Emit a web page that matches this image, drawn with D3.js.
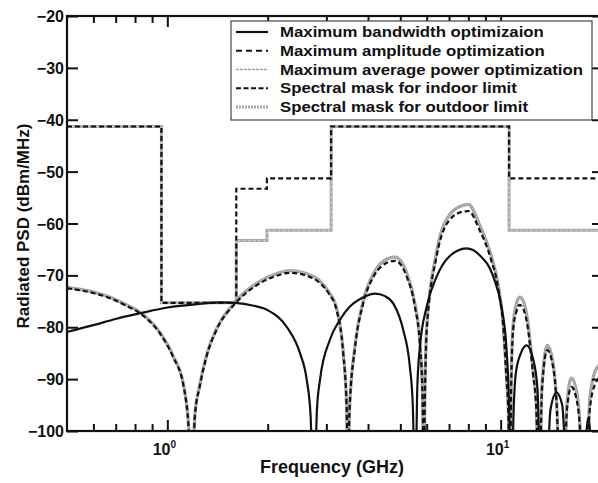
<!DOCTYPE html>
<html><head><meta charset="utf-8">
<script src="https://cdn.jsdelivr.net/npm/d3@7"></script>
<style>
body{margin:0;background:#fff}
text{font-family:"Liberation Sans",Arial,Helvetica,sans-serif;font-weight:bold;fill:#111}
</style>
</head><body>
<svg id="c" width="598" height="483"></svg>
<script>
// ---------- data ----------
const maskFreqs     = [0.5, 0.96, 1.61, 1.99, 3.1, 10.6, 20];
const indoorLevels  = [-41.3, -75.3, -53.3, -51.3, -41.3, -51.3, -51.3];
const outdoorLevels = [-41.3, -75.3, -63.3, -61.3, -41.3, -61.3, -61.3];

// Maximum bandwidth optimization (solid)
const bwFreq = [0.5,0.6,0.7,0.83,1.0,1.25,1.45,1.6,1.8,2.0,2.28,2.5,2.62,2.69,2.73,
  2.77,2.81,2.87,3.07,3.29,3.53,3.85,4.19,4.5,4.76,5.1,5.34,5.45,5.52,
  5.56,5.62,5.72,6.0,6.42,7.0,7.9,8.65,9.51,10.05,10.4,10.6,10.7,
  10.8,10.95,11.1,11.5,11.96,12.5,12.9,13.15,
  13.75,14.1,14.7,15.3,15.8,
  17.7,18.3,18.9];
const bwPsd = [-80.9,-79.6,-78.4,-77.3,-76.2,-75.5,-75.2,-75.3,-75.8,-76.7,-79.9,-85.0,-90.2,-97,-108,
  -108,-96,-90.2,-82.5,-78.6,-76.0,-74.3,-73.5,-74.0,-75.4,-80.5,-87.6,-95,-108,
  -108,-92,-84,-76,-70.3,-66.4,-64.8,-66.1,-70.3,-76.0,-83.7,-95.3,-108,
  -108,-95,-88.9,-85.0,-83.5,-86,-92,-108,
  -108,-96,-92.6,-95,-108,
  -108,-97.5,-108];

// Maximum amplitude optimization (dashed)
const ampFreq = [0.5,0.6,0.673,0.75,0.827,0.95,1.04,1.12,1.15,1.185,
  1.21,1.25,1.31,1.405,1.6,1.9,2.1,2.33,2.6,2.87,3.05,3.22,3.37,3.45,3.48,
  3.52,3.66,3.87,4.15,4.4,4.82,5.23,5.53,5.73,5.83,5.88,
  5.93,6.0,6.42,7.03,7.72,8.0,8.65,9.3,9.85,10.2,10.4,10.55,10.6,
  10.68,10.75,10.9,11.15,11.4,11.7,12.0,12.5,12.8,12.95,
  13.1,13.3,13.8,14.3,14.75,15.0,
  15.5,15.8,16.3,16.9,17.3,17.5,
  18.1,18.5,19.2,20];
const ampPsd = [-72.5,-73.4,-74.4,-75.8,-77.3,-81.2,-85.7,-91.5,-96.6,-108,
  -97,-91.5,-85.7,-80.5,-75.4,-71.5,-70.2,-69.5,-70.0,-71.5,-73.5,-76.7,-85.0,-95.3,-108,
  -96,-83.7,-75.4,-70.3,-68.2,-67.2,-70.3,-76.0,-83.7,-93.4,-108,
  -92,-80.5,-66.4,-59.3,-57.7,-57.6,-61.3,-66.4,-72.8,-80.5,-89.5,-97,-108,
  -108,-92,-80.5,-77,-75.7,-76.5,-79.2,-88.9,-96,-108,
  -108,-92,-84.4,-87,-96,-108,
  -108,-96,-91.5,-94,-100,-108,
  -108,-96,-91,-89.5];

// Maximum average power optimization (gray)
const avgFreq = [0.5,0.6,0.673,0.75,0.827,0.95,1.04,1.12,1.15,1.185,
  1.21,1.25,1.31,1.405,1.6,1.9,2.1,2.33,2.6,2.87,3.05,3.22,3.37,3.45,3.48,
  3.52,3.66,3.87,4.15,4.4,4.82,5.23,5.53,5.73,5.83,5.88,
  5.93,6.0,6.42,7.03,7.72,8.0,8.65,9.3,9.85,10.2,10.4,10.55,10.6,
  10.68,10.75,10.9,11.15,11.4,11.7,12.0,12.5,12.8,12.95,
  13.1,13.3,13.8,14.3,14.75,15.0,
  15.5,15.8,16.3,16.9,17.3,17.5,
  18.1,18.5,19.2,20];
const avgPsd = [-72.3,-73.2,-74.2,-75.6,-77.1,-81.0,-85.5,-91.3,-96.4,-108,
  -96.8,-91.3,-85.5,-80.3,-75.1,-71.1,-69.8,-69.1,-69.6,-71.1,-73.2,-76.4,-84.8,-95.1,-108,
  -95.8,-83.3,-74.9,-69.7,-67.5,-66.5,-69.6,-75.5,-83.3,-93.2,-108,
  -91.5,-80,-65.6,-58.3,-56.5,-56.3,-60.3,-65.6,-72.2,-80,-89.1,-96.8,-108,
  -108,-91.5,-79.5,-75.5,-74.2,-75,-78,-88.2,-95.6,-108,
  -108,-91.5,-83.5,-86.2,-95.6,-108,
  -108,-95,-89.8,-92.5,-99,-108,
  -108,-94,-88.5,-87];

const yTicks = [-100,-90,-80,-70,-60,-50,-40,-30,-20];
const xMajor = [1, 10];
const xMinor = [0.6,0.7,0.8,0.9,2,3,4,5,6,7,8,9,20];
const legendLabels = ["Maximum bandwidth optimizaion","Maximum amplitude optimization",
  "Maximum average power optimization","Spectral mask for indoor limit","Spectral mask for outdoor limit"];

// ---------- chart ----------
const L=67, T=16, R=601, B=431;
const svg = d3.select("#c");
const x = d3.scaleLog().domain([0.5,20]).range([L,R]);
const y = d3.scaleLinear().domain([-100,-20]).range([B,T]);

svg.append("defs").append("clipPath").attr("id","clip")
  .append("rect").attr("x",L).attr("y",T).attr("width",R-L).attr("height",B-T);
const plot = svg.append("g").attr("clip-path","url(#clip)");

const curve = (fs, vs) => fs.map((f,i)=>[f, vs[i]]);
const lineGen = d3.line().x(d=>x(d[0])).y(d=>y(d[1])).curve(d3.curveMonotoneX);
const stepGen = d3.line().x(d=>x(d[0])).y(d=>y(d[1])).curve(d3.curveStepAfter);

// masks
plot.append("path").attr("d", stepGen(curve(maskFreqs,outdoorLevels)))
  .attr("fill","none").attr("stroke","#a8a8a8").attr("stroke-width",3);
plot.append("path").attr("d", stepGen(curve(maskFreqs,outdoorLevels)))
  .attr("fill","none").attr("stroke","#e0e0e0").attr("stroke-width",1).attr("stroke-dasharray","2,3");
plot.append("path").attr("d", stepGen(curve(maskFreqs,indoorLevels)))
  .attr("fill","none").attr("stroke","#111").attr("stroke-width",2.2).attr("stroke-dasharray","5,3");

// spectra
plot.append("path").attr("d", lineGen(curve(avgFreq,avgPsd)))
  .attr("fill","none").attr("stroke","#a0a0a0").attr("stroke-width",3.2);
plot.append("path").attr("d", lineGen(curve(avgFreq,avgPsd)))
  .attr("fill","none").attr("stroke","#dcdcdc").attr("stroke-width",1).attr("stroke-dasharray","1,2");
plot.append("path").attr("d", lineGen(curve(ampFreq,ampPsd)))
  .attr("fill","none").attr("stroke","#111").attr("stroke-width",2.2).attr("stroke-dasharray","5,3");
plot.append("path").attr("d", lineGen(curve(bwFreq,bwPsd)))
  .attr("fill","none").attr("stroke","#111").attr("stroke-width",2.2);

// frame
svg.append("rect").attr("x",L).attr("y",T).attr("width",R-L).attr("height",B-T)
  .attr("fill","none").attr("stroke","#111").attr("stroke-width",2.2);

// axes (inward ticks)
const fmtNone = ()=>"";
function addAxis(gen, tr){ const g=svg.append("g").attr("transform",tr).call(gen);
  g.select(".domain").remove(); g.selectAll("line").attr("stroke","#111").attr("stroke-width",2); return g; }
addAxis(d3.axisBottom(x).tickValues(xMajor).tickSize(-11).tickFormat(fmtNone), `translate(0,${B})`);
addAxis(d3.axisBottom(x).tickValues(xMinor).tickSize(-7).tickFormat(fmtNone), `translate(0,${B})`);
addAxis(d3.axisTop(x).tickValues(xMajor).tickSize(-11).tickFormat(fmtNone), `translate(0,${T})`);
addAxis(d3.axisTop(x).tickValues(xMinor).tickSize(-7).tickFormat(fmtNone), `translate(0,${T})`);
const yl = addAxis(d3.axisLeft(y).tickValues(yTicks).tickSize(-11).tickPadding(3).tickFormat(d3.format("d")), `translate(${L},0)`);
yl.selectAll("text").style("font-size","16px").attr("fill","#111").attr("dy","0.35em")
  .attr("x",-3).attr("transform",null);
addAxis(d3.axisRight(y).tickValues(yTicks).tickSize(-9).tickFormat(fmtNone), `translate(${R},0)`);

// x labels 10^n
xMajor.forEach(v=>{
  const t = svg.append("text").attr("x",x(v)-3).attr("y",455).attr("text-anchor","middle").style("font-size","16px");
  t.append("tspan").text("10");
  t.append("tspan").attr("dy",-7).style("font-size","10px").text(String(Math.round(Math.log10(v))));
});

// axis titles
svg.append("text").attr("x",332).attr("y",473).attr("text-anchor","middle").style("font-size","18px")
  .text("Frequency (GHz)");
svg.append("text").attr("transform","translate(29,226) rotate(-90)").attr("text-anchor","middle")
  .style("font-size","17px").text("Radiated PSD (dBm/MHz)");

// legend
const lg = svg.append("g");
lg.append("rect").attr("x",231).attr("y",21).attr("width",361).attr("height",99)
  .attr("fill","#fff").attr("stroke","#444").attr("stroke-width",1.2);
const rowY = d3.scaleLinear().domain([0,4]).range([32,107]);
const styles = [
  {stroke:"#111", w:2.2, dash:null},
  {stroke:"#111", w:2.2, dash:"6,4"},
  {stroke:"#a0a0a0", w:1.5, dash:"3,1"},
  {stroke:"#111", w:2.2, dash:"5,2.5"},
  {stroke:"#a8a8a8", w:3, dash:"2,1"}
];
legendLabels.forEach((s,i)=>{
  const yy = rowY(i);
  lg.append("line").attr("x1",236).attr("x2",268).attr("y1",yy).attr("y2",yy)
    .attr("stroke",styles[i].stroke).attr("stroke-width",styles[i].w)
    .attr("stroke-dasharray",styles[i].dash);
  lg.append("text").attr("transform",`translate(280,${yy+5}) scale(1.12,1)`)
    .style("font-size","15px").text(s);
});
</script>
</body></html>
